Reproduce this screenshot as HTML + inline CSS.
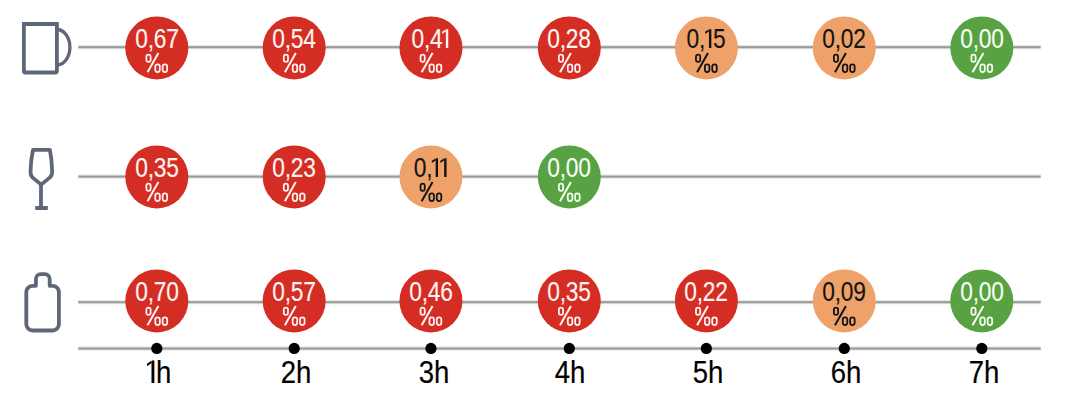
<!DOCTYPE html>
<html><head><meta charset="utf-8"><style>
html,body{margin:0;padding:0;background:#fff;}
body{width:1080px;height:413px;position:relative;overflow:hidden;font-family:"Liberation Sans",sans-serif;}
.n{position:absolute;width:80px;text-align:center;font-size:26.8px;line-height:0;height:0;letter-spacing:-0.3px;transform:scaleX(0.85);-webkit-text-stroke:0.15px currentColor;white-space:nowrap;}
.h{position:absolute;top:372px;width:60px;text-align:center;font-size:32px;line-height:0;height:0;color:#000;fill:#000;transform:scaleX(0.86);white-space:nowrap;-webkit-text-stroke:0.2px #000;}
svg.main{position:absolute;left:0;top:0;}
.one{height:1px;vertical-align:0;overflow:visible;}
</style></head><body>
<svg class="main" width="1080" height="413" viewBox="0 0 1080 413" fill="none">
<g fill="#9a9a9a">
<rect x="78.3" y="45.20" width="962.4" height="4" opacity="0.3"/><rect x="78.3" y="46.20" width="962.4" height="2"/>
<rect x="78.3" y="174.60" width="962.4" height="4" opacity="0.3"/><rect x="78.3" y="175.60" width="962.4" height="2"/>
<rect x="78.3" y="300.20" width="962.4" height="4" opacity="0.3"/><rect x="78.3" y="301.20" width="962.4" height="2"/>
<rect x="78.3" y="346.55" width="962.4" height="4" opacity="0.3"/><rect x="78.3" y="347.55" width="962.4" height="2"/>
</g>
<g stroke="#5f667a" stroke-width="3.8" fill="none">
<path d="M23.9 24 H56.9 V71 Q56.9 72.5 55.4 72.5 H25.4 Q23.9 72.5 23.9 71 Z"/>
<path d="M57 29.5 A12.9 17.7 0 0 1 57 64.9" stroke-width="3.3"/>
<path d="M33 149.9 H49.9 Q51.9 160 52.2 172 Q52.2 175 50 177.4 L41.2 184.6 L32.4 177.4 Q30.4 175 30.5 172 Q30.8 160 33 149.9 Z" stroke-linejoin="round"/>
<path d="M41 184.5 V208 M35.2 208 H47.8"/>
<path d="M35.9 285.8 V279 A4.9 4.9 0 0 1 40.8 274.1 H44.8 A4.9 4.9 0 0 1 49.7 279 V285.8 H52.6 A6.3 6.3 0 0 1 58.9 292.1 V324.2 A6.3 6.3 0 0 1 52.6 330.5 H32.6 A6.3 6.3 0 0 1 26.3 324.2 V292.1 A6.3 6.3 0 0 1 32.6 285.8 Z" stroke-linejoin="round"/>
</g>
<circle cx="156.80" cy="47.90" r="31.5" fill="#d42d24"/>
<g transform="translate(156.80 47.90)" stroke="#fff4f2" stroke-width="1.75" fill="none"><rect x="-10.425" y="6.775" width="4.25" height="7.15" rx="2.1"/><path d="M1.6 5 L-9.3 24.4" stroke-width="2.0"/><rect x="-1.525" y="16.475" width="4.55" height="7.65" rx="2.25"/><rect x="5.825" y="16.475" width="4.55" height="7.65" rx="2.25"/></g>
<circle cx="294.20" cy="47.90" r="31.5" fill="#d42d24"/>
<g transform="translate(294.20 47.90)" stroke="#fff4f2" stroke-width="1.75" fill="none"><rect x="-10.425" y="6.775" width="4.25" height="7.15" rx="2.1"/><path d="M1.6 5 L-9.3 24.4" stroke-width="2.0"/><rect x="-1.525" y="16.475" width="4.55" height="7.65" rx="2.25"/><rect x="5.825" y="16.475" width="4.55" height="7.65" rx="2.25"/></g>
<circle cx="430.95" cy="47.90" r="31.5" fill="#d42d24"/>
<g transform="translate(430.95 47.90)" stroke="#fff4f2" stroke-width="1.75" fill="none"><rect x="-10.425" y="6.775" width="4.25" height="7.15" rx="2.1"/><path d="M1.6 5 L-9.3 24.4" stroke-width="2.0"/><rect x="-1.525" y="16.475" width="4.55" height="7.65" rx="2.25"/><rect x="5.825" y="16.475" width="4.55" height="7.65" rx="2.25"/></g>
<circle cx="569.30" cy="47.90" r="31.5" fill="#d42d24"/>
<g transform="translate(569.30 47.90)" stroke="#fff4f2" stroke-width="1.75" fill="none"><rect x="-10.425" y="6.775" width="4.25" height="7.15" rx="2.1"/><path d="M1.6 5 L-9.3 24.4" stroke-width="2.0"/><rect x="-1.525" y="16.475" width="4.55" height="7.65" rx="2.25"/><rect x="5.825" y="16.475" width="4.55" height="7.65" rx="2.25"/></g>
<circle cx="706.40" cy="47.90" r="31.5" fill="#eea168"/>
<g transform="translate(706.40 47.90)" stroke="#141414" stroke-width="1.75" fill="none"><rect x="-10.425" y="6.775" width="4.25" height="7.15" rx="2.1"/><path d="M1.6 5 L-9.3 24.4" stroke-width="2.0"/><rect x="-1.525" y="16.475" width="4.55" height="7.65" rx="2.25"/><rect x="5.825" y="16.475" width="4.55" height="7.65" rx="2.25"/></g>
<circle cx="844.30" cy="47.90" r="31.5" fill="#eea168"/>
<g transform="translate(844.30 47.90)" stroke="#141414" stroke-width="1.75" fill="none"><rect x="-10.425" y="6.775" width="4.25" height="7.15" rx="2.1"/><path d="M1.6 5 L-9.3 24.4" stroke-width="2.0"/><rect x="-1.525" y="16.475" width="4.55" height="7.65" rx="2.25"/><rect x="5.825" y="16.475" width="4.55" height="7.65" rx="2.25"/></g>
<circle cx="981.80" cy="47.90" r="31.5" fill="#58a244"/>
<g transform="translate(981.80 47.90)" stroke="#f4fff0" stroke-width="1.75" fill="none"><rect x="-10.425" y="6.775" width="4.25" height="7.15" rx="2.1"/><path d="M1.6 5 L-9.3 24.4" stroke-width="2.0"/><rect x="-1.525" y="16.475" width="4.55" height="7.65" rx="2.25"/><rect x="5.825" y="16.475" width="4.55" height="7.65" rx="2.25"/></g>
<circle cx="156.80" cy="176.90" r="31.5" fill="#d42d24"/>
<g transform="translate(156.80 176.90)" stroke="#fff4f2" stroke-width="1.75" fill="none"><rect x="-10.425" y="6.775" width="4.25" height="7.15" rx="2.1"/><path d="M1.6 5 L-9.3 24.4" stroke-width="2.0"/><rect x="-1.525" y="16.475" width="4.55" height="7.65" rx="2.25"/><rect x="5.825" y="16.475" width="4.55" height="7.65" rx="2.25"/></g>
<circle cx="294.20" cy="176.90" r="31.5" fill="#d42d24"/>
<g transform="translate(294.20 176.90)" stroke="#fff4f2" stroke-width="1.75" fill="none"><rect x="-10.425" y="6.775" width="4.25" height="7.15" rx="2.1"/><path d="M1.6 5 L-9.3 24.4" stroke-width="2.0"/><rect x="-1.525" y="16.475" width="4.55" height="7.65" rx="2.25"/><rect x="5.825" y="16.475" width="4.55" height="7.65" rx="2.25"/></g>
<circle cx="430.95" cy="176.90" r="31.5" fill="#eea168"/>
<g transform="translate(430.95 176.90)" stroke="#141414" stroke-width="1.75" fill="none"><rect x="-10.425" y="6.775" width="4.25" height="7.15" rx="2.1"/><path d="M1.6 5 L-9.3 24.4" stroke-width="2.0"/><rect x="-1.525" y="16.475" width="4.55" height="7.65" rx="2.25"/><rect x="5.825" y="16.475" width="4.55" height="7.65" rx="2.25"/></g>
<circle cx="569.30" cy="176.90" r="31.5" fill="#58a244"/>
<g transform="translate(569.30 176.90)" stroke="#f4fff0" stroke-width="1.75" fill="none"><rect x="-10.425" y="6.775" width="4.25" height="7.15" rx="2.1"/><path d="M1.6 5 L-9.3 24.4" stroke-width="2.0"/><rect x="-1.525" y="16.475" width="4.55" height="7.65" rx="2.25"/><rect x="5.825" y="16.475" width="4.55" height="7.65" rx="2.25"/></g>
<circle cx="156.80" cy="300.90" r="31.5" fill="#d42d24"/>
<g transform="translate(156.80 300.90)" stroke="#fff4f2" stroke-width="1.75" fill="none"><rect x="-10.425" y="6.775" width="4.25" height="7.15" rx="2.1"/><path d="M1.6 5 L-9.3 24.4" stroke-width="2.0"/><rect x="-1.525" y="16.475" width="4.55" height="7.65" rx="2.25"/><rect x="5.825" y="16.475" width="4.55" height="7.65" rx="2.25"/></g>
<circle cx="294.20" cy="300.90" r="31.5" fill="#d42d24"/>
<g transform="translate(294.20 300.90)" stroke="#fff4f2" stroke-width="1.75" fill="none"><rect x="-10.425" y="6.775" width="4.25" height="7.15" rx="2.1"/><path d="M1.6 5 L-9.3 24.4" stroke-width="2.0"/><rect x="-1.525" y="16.475" width="4.55" height="7.65" rx="2.25"/><rect x="5.825" y="16.475" width="4.55" height="7.65" rx="2.25"/></g>
<circle cx="430.95" cy="300.90" r="31.5" fill="#d42d24"/>
<g transform="translate(430.95 300.90)" stroke="#fff4f2" stroke-width="1.75" fill="none"><rect x="-10.425" y="6.775" width="4.25" height="7.15" rx="2.1"/><path d="M1.6 5 L-9.3 24.4" stroke-width="2.0"/><rect x="-1.525" y="16.475" width="4.55" height="7.65" rx="2.25"/><rect x="5.825" y="16.475" width="4.55" height="7.65" rx="2.25"/></g>
<circle cx="569.30" cy="300.90" r="31.5" fill="#d42d24"/>
<g transform="translate(569.30 300.90)" stroke="#fff4f2" stroke-width="1.75" fill="none"><rect x="-10.425" y="6.775" width="4.25" height="7.15" rx="2.1"/><path d="M1.6 5 L-9.3 24.4" stroke-width="2.0"/><rect x="-1.525" y="16.475" width="4.55" height="7.65" rx="2.25"/><rect x="5.825" y="16.475" width="4.55" height="7.65" rx="2.25"/></g>
<circle cx="706.40" cy="300.90" r="31.5" fill="#d42d24"/>
<g transform="translate(706.40 300.90)" stroke="#fff4f2" stroke-width="1.75" fill="none"><rect x="-10.425" y="6.775" width="4.25" height="7.15" rx="2.1"/><path d="M1.6 5 L-9.3 24.4" stroke-width="2.0"/><rect x="-1.525" y="16.475" width="4.55" height="7.65" rx="2.25"/><rect x="5.825" y="16.475" width="4.55" height="7.65" rx="2.25"/></g>
<circle cx="844.30" cy="300.90" r="31.5" fill="#eea168"/>
<g transform="translate(844.30 300.90)" stroke="#141414" stroke-width="1.75" fill="none"><rect x="-10.425" y="6.775" width="4.25" height="7.15" rx="2.1"/><path d="M1.6 5 L-9.3 24.4" stroke-width="2.0"/><rect x="-1.525" y="16.475" width="4.55" height="7.65" rx="2.25"/><rect x="5.825" y="16.475" width="4.55" height="7.65" rx="2.25"/></g>
<circle cx="981.80" cy="300.90" r="31.5" fill="#58a244"/>
<g transform="translate(981.80 300.90)" stroke="#f4fff0" stroke-width="1.75" fill="none"><rect x="-10.425" y="6.775" width="4.25" height="7.15" rx="2.1"/><path d="M1.6 5 L-9.3 24.4" stroke-width="2.0"/><rect x="-1.525" y="16.475" width="4.55" height="7.65" rx="2.25"/><rect x="5.825" y="16.475" width="4.55" height="7.65" rx="2.25"/></g>
<circle cx="156.80" cy="348.45" r="5.6" fill="#000"/>
<circle cx="294.20" cy="348.45" r="5.6" fill="#000"/>
<circle cx="430.95" cy="348.45" r="5.6" fill="#000"/>
<circle cx="569.30" cy="348.45" r="5.6" fill="#000"/>
<circle cx="706.40" cy="348.45" r="5.6" fill="#000"/>
<circle cx="844.30" cy="348.45" r="5.6" fill="#000"/>
<circle cx="981.80" cy="348.45" r="5.6" fill="#000"/>
</svg>
<div class="n" style="left:116.60px;top:39.20px;color:#fff4f2;fill:#fff4f2">0,67</div>
<div class="n" style="left:254.00px;top:39.20px;color:#fff4f2;fill:#fff4f2">0,54</div>
<div class="n" style="left:390.75px;top:39.20px;color:#fff4f2;fill:#fff4f2">0,4<svg class="one" style="width:9.41px"><path transform="translate(0,1)" d="M4.47 -18.80 H7.29 V0 H4.47 Z M4.77 -18.80 L0 -16.20 L0 -14.10 L4.77 -16.70 Z"/></svg></div>
<div class="n" style="left:529.10px;top:39.20px;color:#fff4f2;fill:#fff4f2">0,28</div>
<div class="n" style="left:666.20px;top:39.20px;color:#141414;fill:#141414">0,<svg class="one" style="width:9.41px"><path transform="translate(0,1)" d="M4.47 -18.80 H7.29 V0 H4.47 Z M4.77 -18.80 L0 -16.20 L0 -14.10 L4.77 -16.70 Z"/></svg>5</div>
<div class="n" style="left:804.10px;top:39.20px;color:#141414;fill:#141414">0,02</div>
<div class="n" style="left:941.60px;top:39.20px;color:#f4fff0;fill:#f4fff0">0,00</div>
<div class="n" style="left:116.60px;top:168.20px;color:#fff4f2;fill:#fff4f2">0,35</div>
<div class="n" style="left:254.00px;top:168.20px;color:#fff4f2;fill:#fff4f2">0,23</div>
<div class="n" style="left:390.75px;top:168.20px;color:#141414;fill:#141414">0,<svg class="one" style="width:9.41px"><path transform="translate(0,1)" d="M4.47 -18.80 H7.29 V0 H4.47 Z M4.77 -18.80 L0 -16.20 L0 -14.10 L4.77 -16.70 Z"/></svg><svg class="one" style="width:9.41px"><path transform="translate(0,1)" d="M4.47 -18.80 H7.29 V0 H4.47 Z M4.77 -18.80 L0 -16.20 L0 -14.10 L4.77 -16.70 Z"/></svg></div>
<div class="n" style="left:529.10px;top:168.20px;color:#f4fff0;fill:#f4fff0">0,00</div>
<div class="n" style="left:116.60px;top:292.20px;color:#fff4f2;fill:#fff4f2">0,70</div>
<div class="n" style="left:254.00px;top:292.20px;color:#fff4f2;fill:#fff4f2">0,57</div>
<div class="n" style="left:390.75px;top:292.20px;color:#fff4f2;fill:#fff4f2">0,46</div>
<div class="n" style="left:529.10px;top:292.20px;color:#fff4f2;fill:#fff4f2">0,35</div>
<div class="n" style="left:666.20px;top:292.20px;color:#fff4f2;fill:#fff4f2">0,22</div>
<div class="n" style="left:804.10px;top:292.20px;color:#141414;fill:#141414">0,09</div>
<div class="n" style="left:941.60px;top:292.20px;color:#f4fff0;fill:#f4fff0">0,00</div>
<div class="h" style="left:128.95px"><svg class="one" style="width:11.11px"><path transform="translate(0,1)" d="M5.28 -22.45 H8.61 V0 H5.28 Z M5.58 -22.45 L0 -19.34 L0 -16.84 L5.58 -19.94 Z"/></svg>h</div>
<div class="h" style="left:266.45px">2h</div>
<div class="h" style="left:404.05px">3h</div>
<div class="h" style="left:540.20px">4h</div>
<div class="h" style="left:677.85px">5h</div>
<div class="h" style="left:815.50px">6h</div>
<div class="h" style="left:953.50px">7h</div>
</body></html>
